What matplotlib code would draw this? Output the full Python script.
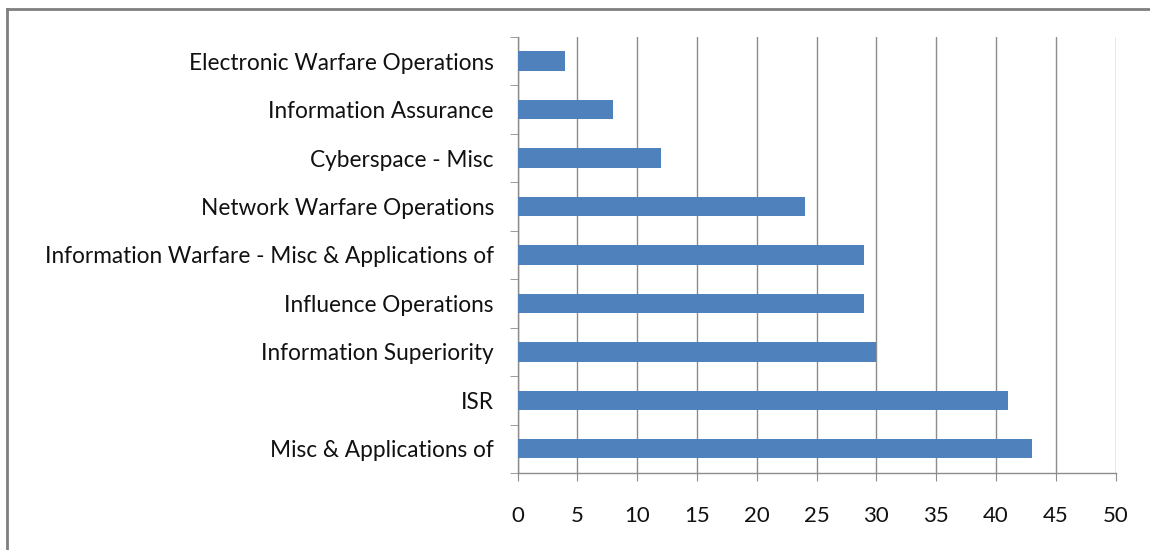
import matplotlib.pyplot as plt
from matplotlib.lines import Line2D
import numpy as np

plt.rcParams['font.family'] = ['Lato', 'DejaVu Sans']

# categories from top to bottom as in the chart
categories = ["Electronic Warfare Operations", "Information Assurance", "Cyberspace - Misc",
              "Network Warfare Operations", "Information Warfare - Misc & Applications of",
              "Influence Operations", "Information Superiority", "ISR", "Misc & Applications of"]
counts = [4, 8, 12, 24, 29, 29, 30, 41, 43]
xticks = [0, 5, 10, 15, 20, 25, 30, 35, 40, 45, 50]

fig = plt.figure(figsize=(11.5, 5.5), dpi=100)
ax = fig.add_axes([0.450, 0.140, 0.520, 0.793])

n = len(categories)
y = np.arange(n)[::-1]
ax.barh(y, counts, height=0.4, color='#4F81BD', zorder=3)

ax.set_xlim(0, 50)
ax.set_ylim(-0.5, n - 0.5)
ax.set_xticks(xticks)
ax.set_yticks(y)
ax.set_yticklabels(categories)
ax.set_yticks(np.arange(n + 1) - 0.5, minor=True)

gray = '#8C8C8C'
ax.grid(axis='x', color=gray, linewidth=1, zorder=0)
for s in ['top', 'right']:
    ax.spines[s].set_visible(False)
for s in ['left', 'bottom']:
    ax.spines[s].set_color(gray)
    ax.spines[s].set_linewidth(1)

ax.tick_params(axis='y', which='major', length=0, pad=17, labelsize=16.3, labelcolor='#111111')
ax.tick_params(axis='y', which='minor', length=6, color=gray, direction='out')
ax.tick_params(axis='x', length=6, color=gray, pad=18, labelsize=16, labelcolor='#111111')

# outer chart border (left and top visible)
fig.add_artist(Line2D([0.0065, 0.0065], [0.0, 0.984], color='#7F7F7F', linewidth=2,
                      transform=fig.transFigure))
fig.add_artist(Line2D([0.0065, 1.0], [0.984, 0.984], color='#7F7F7F', linewidth=2,
                      transform=fig.transFigure))

fig.savefig('out.png', dpi=100)
